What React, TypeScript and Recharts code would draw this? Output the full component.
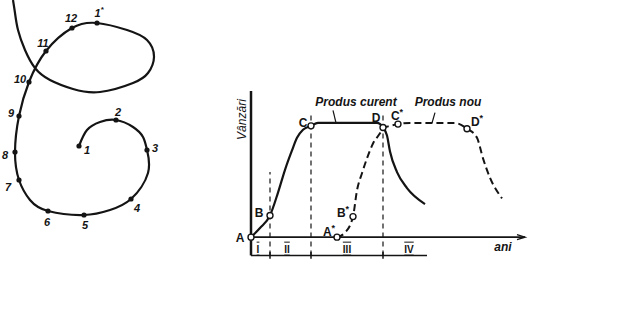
import { ComposedChart, Line, Scatter, XAxis, YAxis, ReferenceLine } from 'recharts'

const FONT = '"Liberation Sans", Arial, sans-serif'
const INK = '#141414'

// stânga – spirala (unități de desen, y în sus)
const spiralPath = [
  { x: 79, y: 84 }, { x: 87, y: 100 }, { x: 100, y: 108 }, { x: 116, y: 110 },
  { x: 133, y: 103 }, { x: 143, y: 93 }, { x: 147, y: 80 }, { x: 148, y: 57 },
  { x: 131, y: 31 }, { x: 110, y: 20 }, { x: 84, y: 15 }, { x: 48, y: 19 },
  { x: 30, y: 30 }, { x: 19, y: 50 }, { x: 15, y: 78 }, { x: 19, y: 114 },
  { x: 29, y: 148 }, { x: 46, y: 179 }, { x: 72, y: 202 }, { x: 97, y: 207 },
  { x: 127, y: 200 }, { x: 147, y: 190 }, { x: 154, y: 173 }, { x: 148, y: 157 },
  { x: 133, y: 147 }, { x: 100, y: 138 }, { x: 73, y: 141 }, { x: 50, y: 150 },
  { x: 35, y: 162 }, { x: 25, y: 180 }, { x: 18, y: 200 }, { x: 15, y: 217 },
  { x: 13, y: 230 },
]

const spiralMarks = [
  { name: '1', x: 79, y: 84 }, { name: '2', x: 116, y: 110 }, { name: '3', x: 147, y: 80 },
  { name: '4', x: 131, y: 31 }, { name: '5', x: 84, y: 15 }, { name: '6', x: 48, y: 19 },
  { name: '7', x: 19, y: 50 }, { name: '8', x: 15, y: 78 }, { name: '9', x: 19, y: 114 },
  { name: '10', x: 29, y: 148 }, { name: '11', x: 46, y: 179 }, { name: '12', x: 72, y: 202 },
  { name: '1*', x: 97, y: 207 },
]

// dreapta – ciclul de viață (x = ani, y = vânzări, palier = 100)
const curent = [
  { x: 0, y: 0 }, { x: 0.9, y: 8 }, { x: 1.9, y: 19 }, { x: 2.7, y: 39 },
  { x: 3.4, y: 59 }, { x: 4.1, y: 76 }, { x: 4.6, y: 87 }, { x: 5.2, y: 94 },
  { x: 6.0, y: 97.5 }, { x: 6.7, y: 100 }, { x: 12.6, y: 100 }, { x: 13.2, y: 96 },
  { x: 13.6, y: 89 }, { x: 13.9, y: 75 }, { x: 14.6, y: 57 }, { x: 15.6, y: 43 },
  { x: 17.4, y: 29 },
]

const nou = [
  { x: 8.6, y: 0 }, { x: 9.4, y: 4 }, { x: 10.2, y: 18 }, { x: 10.6, y: 41 },
  { x: 11.1, y: 56 }, { x: 11.6, y: 69 }, { x: 12.2, y: 82 }, { x: 12.9, y: 91 },
  { x: 13.2, y: 95.5 }, { x: 13.7, y: 97 }, { x: 14.7, y: 99 }, { x: 15.9, y: 100 },
  { x: 20.4, y: 100 }, { x: 21.6, y: 95 }, { x: 22.6, y: 87 }, { x: 23.2, y: 69 },
  { x: 23.9, y: 52 }, { x: 25.1, y: 34 },
]

const curentPts = [
  { name: 'A', x: 0, y: 0 }, { name: 'B', x: 1.9, y: 19 },
  { name: 'C', x: 6.0, y: 97.5 }, { name: 'D', x: 13.2, y: 96 },
]
const nouPts = [
  { name: 'A*', x: 8.6, y: 0 }, { name: 'B*', x: 10.2, y: 18 },
  { name: 'C*', x: 14.7, y: 99 }, { name: 'D*', x: 21.6, y: 95 },
]

const phaseNames = ['I', 'II', 'III', 'IV']
const phaseAt = [0.7, 3.6, 9.6, 15.8]
const phaseBounds = [0, 1.9, 6.0, 13.2, 17.6]
const guideTop = [57, 109, 109]

const seriesNames = ['Produs curent', 'Produs nou']
const seriesNameAt = [{ x: 10.5, y: 118 }, { x: 19.7, y: 118 }]

// unde stă textul față de punct, în px
const SPIRAL_LABEL: Record<string, [number, number]> = {
  '1': [8, 4], '2': [2, -8], '3': [8, -2], '4': [6, 9], '5': [1, 10], '6': [-1, 11],
  '7': [-11, 7], '8': [-10, 3], '9': [-8, -3], '10': [-9, -3], '11': [-3, -8],
  '12': [-1, -10], '1*': [2, -10],
}
const POINT_LABEL: Record<string, [number, number]> = {
  A: [-11, 1], B: [-11, -2], C: [-8, -3], D: [-7, -10],
  'A*': [-8, -5], 'B*': [-10, -4], 'C*': [-1, -8], 'D*': [10, -7],
}

function Letter({ x, y, name, size, italic }: any) {
  const star = name.endsWith('*')
  return (
    <text x={x} y={y} textAnchor="middle" dominantBaseline="central"
      fontFamily={FONT} fontSize={size} fontWeight="bold" fontStyle={italic ? 'italic' : 'normal'} fill={INK}>
      {star ? name.slice(0, -1) : name}
      {star && <tspan dy={-4} fontSize={size - 3}>*</tspan>}
    </text>
  )
}

function SpiralDot({ cx, cy, payload }: any) {
  const [dx, dy] = SPIRAL_LABEL[payload.name] ?? [0, -9]
  return (
    <g>
      <circle cx={cx} cy={cy} r={2.6} fill={INK} />
      <Letter x={cx + dx} y={cy + dy} name={payload.name} size={11} italic />
    </g>
  )
}

function OpenDot({ cx, cy, payload }: any) {
  const [dx, dy] = POINT_LABEL[payload.name] ?? [0, -9]
  return (
    <g>
      <circle cx={cx} cy={cy} r={3} fill="#fff" stroke={INK} strokeWidth={1.4} />
      <Letter x={cx + dx} y={cy + dy} name={payload.name} size={12} />
    </g>
  )
}

function Caption({ cx, cy, payload }: any) {
  return (
    <text x={cx} y={cy} textAnchor="middle" dominantBaseline="central"
      fontFamily={FONT} fontStyle="italic" fontWeight="bold" fontSize={12} fill={INK}>
      {payload.text}
    </text>
  )
}

function Phase({ cx, cy, payload }: any) {
  return (
    <text x={cx} y={cy} textAnchor="middle" dominantBaseline="central"
      fontFamily={FONT} fontSize={10} fontWeight="bold" fill={INK}
      style={{ textDecoration: 'overline underline' }}>
      {payload.text}
    </text>
  )
}

function AxisTitle({ cx, cy, payload }: any) {
  if (payload.vertical) {
    return (
      <text x={cx - 9} y={cy} textAnchor="middle" dominantBaseline="central"
        transform={`rotate(-90 ${cx - 9} ${cy})`}
        fontFamily={FONT} fontStyle="italic" fontSize={12} fill={INK}>
        {payload.text}
      </text>
    )
  }
  return (
    <text x={cx} y={cy} textAnchor="middle" dominantBaseline="central"
      fontFamily={FONT} fontStyle="italic" fontWeight="bold" fontSize={12} fill={INK}>
      {payload.text}
    </text>
  )
}

function Arrow({ cx, cy }: any) {
  return <path d={`M${cx - 8},${cy - 2.5} L${cx},${cy} L${cx - 8},${cy + 2.5}`} fill="none" stroke={INK} strokeWidth={1.4} />
}

export default function App() {
  const phases = phaseNames.map((text, i) => ({ text, x: phaseAt[i], y: -10.5 }))
  const names = seriesNames.map((text, i) => ({ text, ...seriesNameAt[i] }))
  const titles = [
    { text: 'Vânzări', x: 0, y: 103, vertical: true },
    { text: 'ani', x: 25.2, y: -9, vertical: false },
  ]

  return (
    <div style={{ position: 'absolute', left: 0, top: 0, width: 632, height: 313, background: '#fff' }}>
      <div style={{ position: 'absolute', left: 0, top: 0 }}>
        <ComposedChart width={200} height={230} margin={{ top: 0, right: 0, bottom: 0, left: 0 }}>
          <XAxis hide type="number" dataKey="x" domain={[0, 200]} />
          <YAxis hide type="number" dataKey="y" domain={[0, 230]} />
          <Line data={spiralPath} dataKey="y" type="natural" stroke={INK} strokeWidth={2.2}
            dot={false} activeDot={false} isAnimationActive={false} />
          <Scatter data={spiralMarks} shape={SpiralDot} isAnimationActive={false} />
        </ComposedChart>
      </div>

      <div style={{ position: 'absolute', left: 230, top: 80 }}>
        <ComposedChart width={310} height={190} margin={{ top: 11, right: 9, bottom: 10, left: 21 }}>
          <XAxis hide type="number" dataKey="x" domain={[0, 28]} />
          <YAxis hide type="number" dataKey="y" domain={[-20, 128]} />

          {/* axe */}
          <ReferenceLine ifOverflow="visible" segment={[{ x: 0, y: -16 }, { x: 0, y: 128 }]} stroke={INK} strokeWidth={2.5} />
          <ReferenceLine ifOverflow="visible" segment={[{ x: 0, y: 0 }, { x: 27.4, y: 0 }]} stroke={INK} strokeWidth={1.8} />
          <ReferenceLine ifOverflow="visible"
            segment={[{ x: phaseBounds[0], y: -16 }, { x: phaseBounds[4], y: -16 }]} stroke={INK} strokeWidth={1.5} />
          {phaseBounds.slice(1, 4).map((b, i) => (
            <ReferenceLine key={'g' + i} ifOverflow="visible" segment={[{ x: b, y: -16 }, { x: b, y: guideTop[i] }]}
              stroke={INK} strokeWidth={1.2} strokeDasharray="5 4" />
          ))}
          {phaseBounds.slice(1, 4).map((b, i) => (
            <ReferenceLine key={'t' + i} ifOverflow="visible" segment={[{ x: b, y: -19 }, { x: b, y: -13 }]}
              stroke={INK} strokeWidth={1.5} />
          ))}

          {/* linii de indicație spre curbe */}
          <ReferenceLine ifOverflow="visible" segment={[{ x: 8.2, y: 111 }, { x: 8.5, y: 100 }]} stroke={INK} strokeWidth={1.2} />
          <ReferenceLine ifOverflow="visible" segment={[{ x: 18.4, y: 109 }, { x: 18.1, y: 100 }]} stroke={INK} strokeWidth={1.2} />

          <Line data={curent} dataKey="y" type="monotone" stroke={INK} strokeWidth={2.2}
            dot={false} activeDot={false} isAnimationActive={false} />
          <Line data={nou} dataKey="y" type="monotone" stroke={INK} strokeWidth={2}
            strokeDasharray="7 4" dot={false} activeDot={false} isAnimationActive={false} />

          <Scatter data={[{ x: 27.4, y: 0 }]} shape={Arrow} isAnimationActive={false} />
          <Scatter data={curentPts} shape={OpenDot} isAnimationActive={false} />
          <Scatter data={nouPts} shape={OpenDot} isAnimationActive={false} />
          <Scatter data={names} shape={Caption} isAnimationActive={false} />
          <Scatter data={phases} shape={Phase} isAnimationActive={false} />
          <Scatter data={titles} shape={AxisTitle} isAnimationActive={false} />
        </ComposedChart>
      </div>
    </div>
  )
}
